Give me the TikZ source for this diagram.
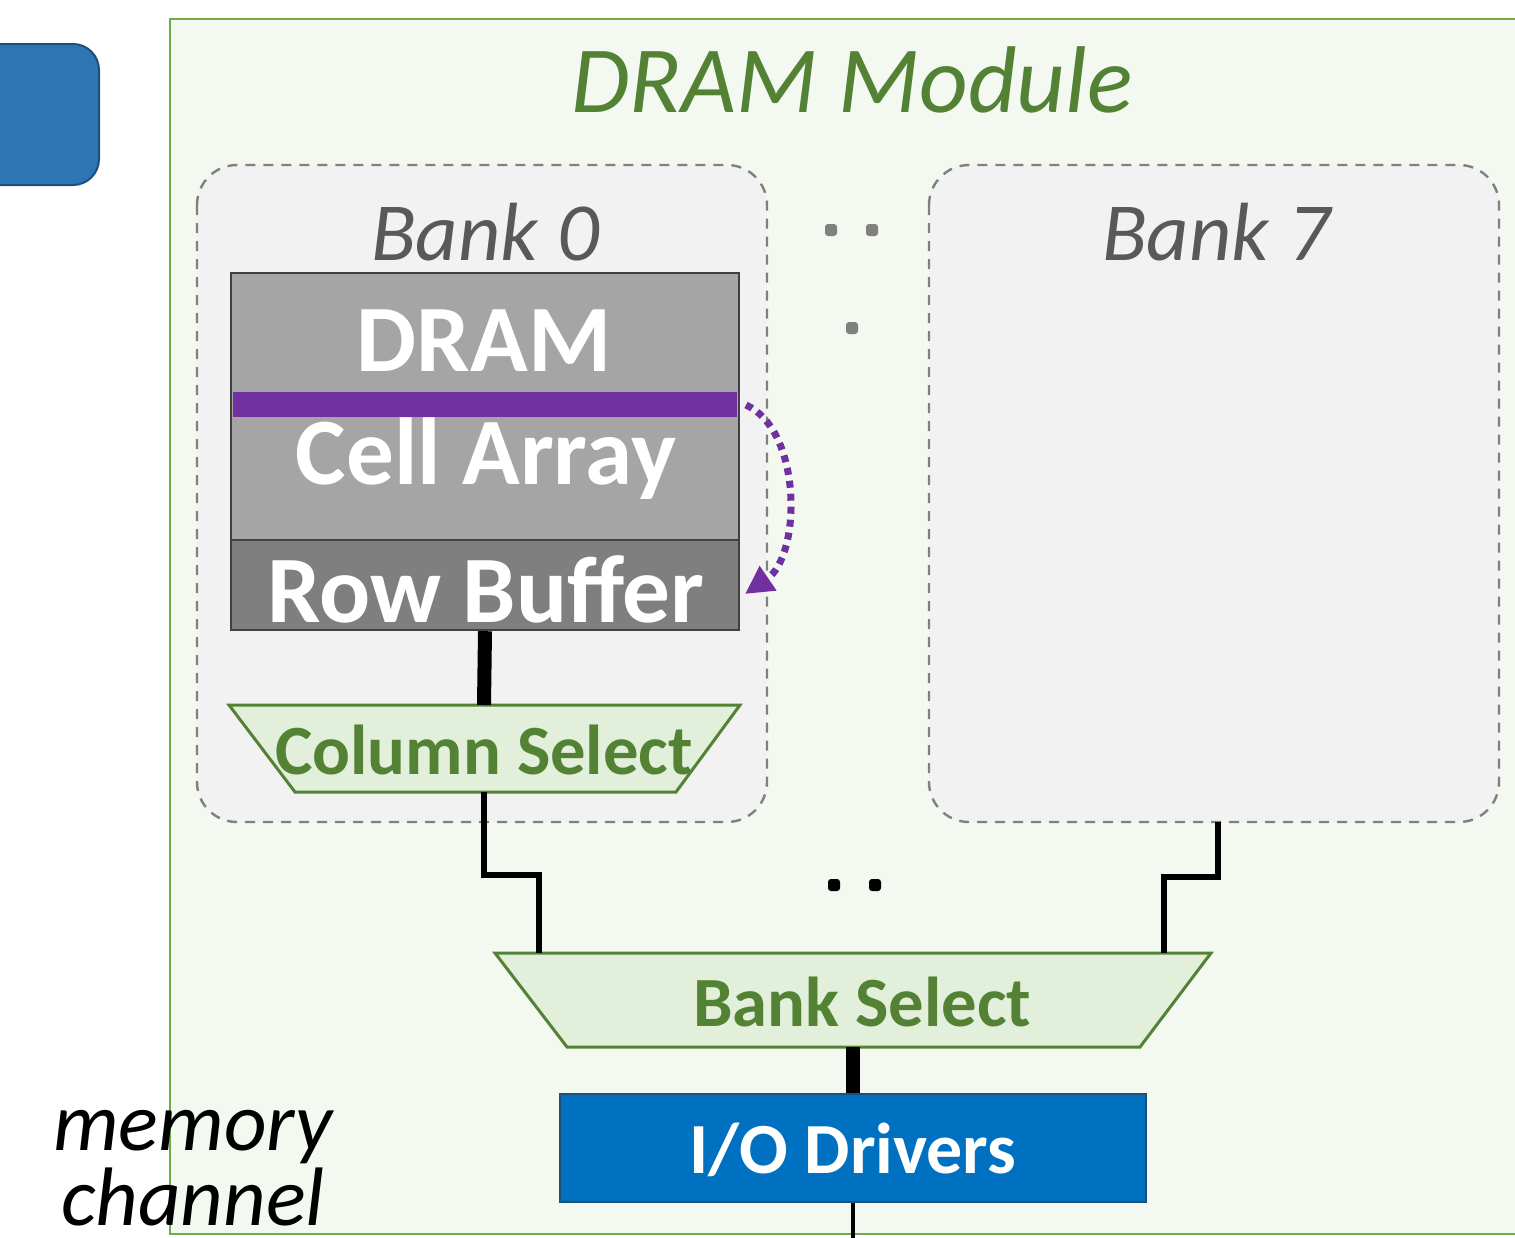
\documentclass[tikz,border=0pt]{standalone}
\usepackage{fontspec}
\setmainfont{Carlito}
\usetikzlibrary{arrows.meta}
\definecolor{modfill}{HTML}{F3F8F0}
\definecolor{modline}{HTML}{70AD47}
\definecolor{dgreen}{HTML}{548235}
\definecolor{selfill}{HTML}{E2EFDA}
\definecolor{bankfill}{HTML}{F2F2F2}
\definecolor{bankline}{HTML}{808080}
\definecolor{banktext}{HTML}{595959}
\definecolor{cellfill}{HTML}{A5A5A5}
\definecolor{rowfill}{HTML}{7F7F7F}
\definecolor{cellline}{HTML}{404040}
\definecolor{purp}{HTML}{7030A0}
\definecolor{iofill}{HTML}{0070C0}
\definecolor{ioline}{HTML}{1F4E79}
\definecolor{cpufill}{HTML}{2E75B6}
\tikzset{
  bankbox/.style={draw=bankline, fill=bankfill, line width=1.2pt, dash pattern=on 5pt off 4pt, rounded corners=20pt},
  banklabel/.style={text=banktext, font=\fontsize{41.3}{48}\selectfont\itshape, inner sep=0pt},
  whitebold/.style={text=white, font=\fontsize{47.6}{52}\selectfont\bfseries, inner sep=0pt},
  selbox/.style={draw=dgreen, fill=selfill, line width=1.5pt, line join=miter},
  seltext/.style={text=dgreen, font=\fontsize{35.3}{42}\selectfont\bfseries, inner sep=0pt},
  bus/.style={line width=3pt, black},
  thickbus/.style={line width=7pt, black},
  dotg/.style={fill=bankline, rounded corners=1.5pt},
}
\begin{document}
\begin{tikzpicture}[x=0.5pt, y=-0.5pt]
\useasboundingbox (0,0) rectangle (1515,1237);
\clip (0,0) rectangle (1515,1237);
% module
\draw[draw=modline, fill=modfill, line width=1.3pt] (170,19) rectangle (1540,1234);
% cpu box (partly off the picture)
\draw[draw=ioline, fill=cpufill, line width=1pt, rounded corners=13pt] (-80,44) rectangle (99,185);
\node[text=dgreen, font=\fontsize{47.4}{52}\selectfont\itshape, inner sep=0pt] (title) at (852,80) {DRAM Module};
% banks
\draw[bankbox] (197,165) rectangle (767,822);
\draw[bankbox] (929,165) rectangle (1499,822);
\coordinate (b7bot) at (1218,822);
\node[banklabel] (b0) at (485,232) {Bank 0};
\node[banklabel] (b7) at (1216,232) {Bank 7};
% cell array
\node[draw=cellline, fill=cellfill, line width=1.2pt, minimum width=254pt, minimum height=133.5pt, inner sep=0pt] (cell) at (485,406.5) {};
\fill[purp] (233,392) rectangle (737,417);
\node[whitebold] (t1) at (484,341) {DRAM};
\node[whitebold] (t2) at (486,459) {Cell Array};
\node[draw=cellline, fill=rowfill, line width=1.2pt, minimum width=254pt, minimum height=45pt, inner sep=0pt] (row) at (485,585) {};
\node[whitebold] (t3) at (486,589) {Row Buffer};
% column select
\draw[selbox] (229,705) -- (740,705) -- (676,792) -- (295,792) -- cycle;
\node[seltext] (cst) at (484,750) {Column Select};
\coordinate (cstop) at (484,705);
\coordinate (csbot) at (484,792);
\draw[thickbus] (row.south) -- (cstop);
% bank select
\draw[selbox] (495,953) -- (1211,953) -- (1140,1047) -- (567,1047) -- cycle;
\node[seltext] (bst) at (862,1002) {Bank Select};
\coordinate (bsl) at (539,953);
\coordinate (bsr) at (1164,953);
\coordinate (bsbot) at (853,1047);
\draw[bus] (csbot) |- (512,875) -| (bsl);
\draw[bus] (b7bot) |- (1191,877) -| (bsr);
% io drivers
\node[draw=ioline, fill=iofill, line width=1pt, minimum width=293pt, minimum height=54pt, inner sep=0pt] (io) at (853,1148) {};
\node[text=white, font=\fontsize{36}{42}\selectfont\bfseries, inner sep=0pt] (iot) at (853,1150) {I/O Drivers};
\draw[thickbus] (bsbot) -- (io.north);
\coordinate (chan) at (853,1250);
\draw[line width=2pt] (io.south) -- (chan);
% dots
\fill[dotg] (825,224) rectangle (837,236);
\fill[dotg] (866,224) rectangle (878,236);
\fill[dotg] (846,322) rectangle (858,334);
\fill[black, rounded corners=1.5pt] (828,879) rectangle (840,891);
\fill[black, rounded corners=1.5pt] (869,879) rectangle (881,891);
% memory channel
\node[font=\fontsize{41.5}{37.5}\selectfont\itshape, align=center, inner sep=0pt] (mc) at (193,1168) {memory\\channel};
% purple arrow
\coordinate (pa) at (746,405);
\coordinate (pb) at (745,594);
\draw[purp, line width=3.5pt, dash pattern=on 3.5pt off 3pt, -{Triangle[length=14pt,width=14pt]}] (pa) .. controls (802,430) and (802,555) .. (pb);
\end{tikzpicture}
\end{document}
